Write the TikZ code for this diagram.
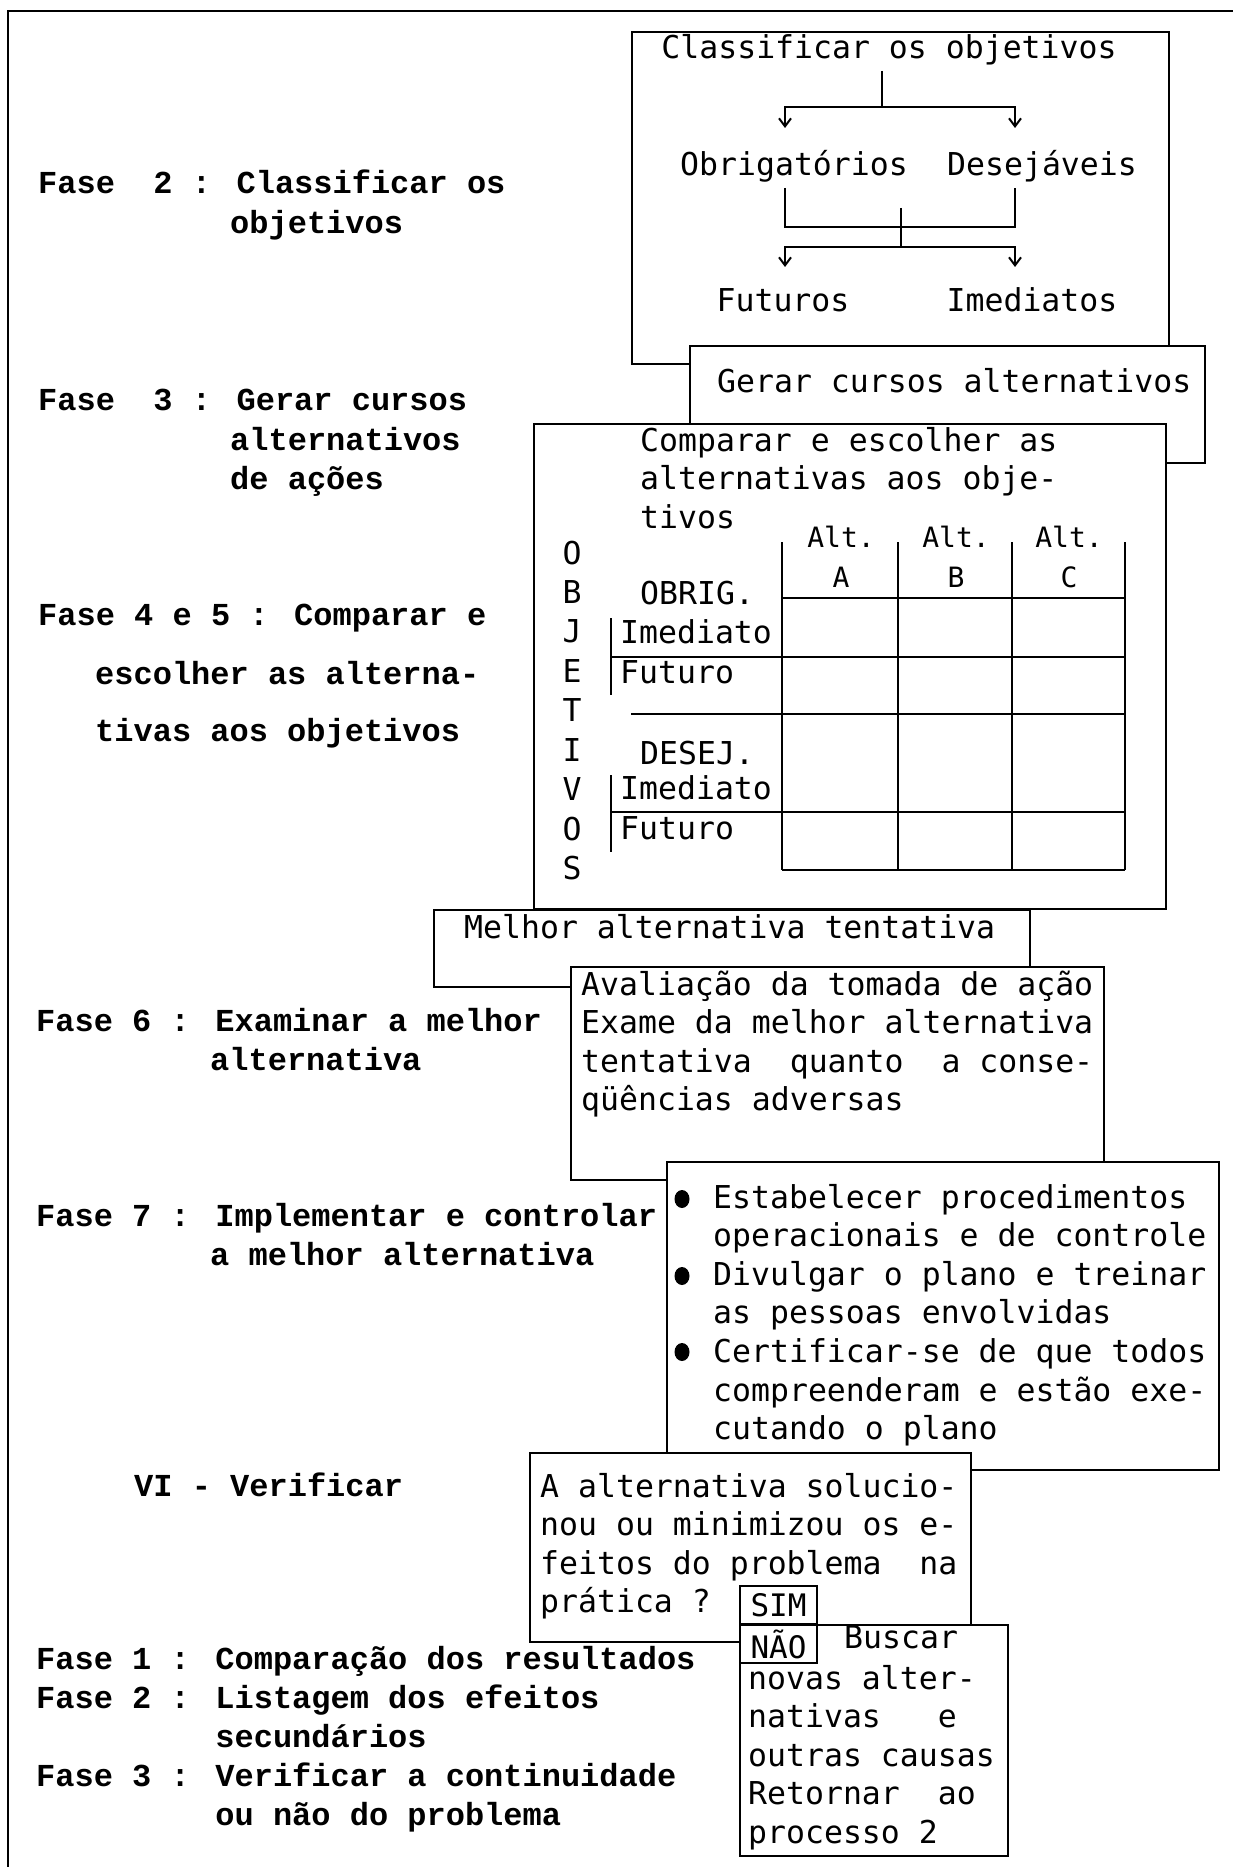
\documentclass[tikz,border=0pt]{standalone}
\usepackage{fontspec}
\usetikzlibrary{arrows.meta,shapes.geometric}
\newfontfamily\sidefont{Liberation Mono}
\newfontfamily\boxfont{DejaVu Sans Mono}
% a block of left-aligned lines whose first baseline is the node's base
\newcommand\txtlines[2][1]{\renewcommand\arraystretch{#1}\begin{tabular}[t]{@{}l@{}}#2\end{tabular}}

\tikzset{
  frame/.style={line width=2pt},
  panel/.style={draw, fill=white, line width=2pt, inner sep=0pt, anchor=north west},
  tag/.style={draw, line width=2pt, inner sep=0pt, anchor=north west,
    minimum width=77pt, minimum height=38pt, font=\boxfont\fontsize{31}{34}\selectfont},
  side/.style={anchor=base west, inner sep=0pt, font=\sidefont\bfseries\fontsize{32}{39}\selectfont},
  boxtxt/.style={anchor=base west, inner sep=0pt, font=\boxfont\fontsize{31.5}{38.6}\selectfont},
  ctxt/.style={boxtxt, anchor=base},
  headtxt/.style={anchor=base, inner sep=0pt, font=\boxfont\fontsize{28}{32}\selectfont},
  tree/.style={line width=2pt},
  arr/.style={-{Straight Barb[length=8pt,width=12pt,line width=2pt]}},
  tablerule/.style={line width=2.2pt},
  bullet/.style={ellipse, fill, inner sep=0pt, minimum width=15pt, minimum height=18pt},
}

\begin{document}
\begin{tikzpicture}[x=1pt,y=-1pt]
\useasboundingbox (0,0) rectangle (1233,1867);
\fill[white] (0,0) rectangle (1233,1867);

% page frame
\draw[frame] (8,1867) -- (8,11) -- (1233,11);

% ---------- left column: phases ----------
\node[side] (f2)   at (38,194)  {Fase\ \ 2 : Classificar os};
\node[side] (f2b)  at (230,234) {objetivos};
\node[side] (f3)   at (38,410)  {Fase\ \ 3 : Gerar cursos};
\node[side] (f3b)  at (230,450) {\txtlines{alternativos\\de ações}};
\node[side] (f45)  at (38,625)  {Fase 4 e 5 : Comparar e};
\node[side] (f45b) at (95,684)  {\txtlines[1.47]{escolher as alterna-\\tivas aos objetivos}};
\node[side] (f6)   at (36,1031) {Fase 6 : Examinar a melhor};
\node[side] (f6b)  at (210,1070) {alternativa};
\node[side] (f7)   at (36,1226) {Fase 7 : Implementar e controlar};
\node[side] (f7b)  at (210,1265) {a melhor alternativa};
\node[side] (vi)   at (134,1496) {VI - Verificar};
\node[side] (g1)   at (36,1669) {\txtlines{Fase 1 : Comparação dos resultados\\
  Fase 2 : Listagem dos efeitos\\\phantom{Fase 2 : }secundários\\
  Fase 3 : Verificar a continuidade\\\phantom{Fase 3 : }ou não do problema}};

% ---------- box 1: classification tree ----------
\node[panel, minimum width=537pt, minimum height=332pt] (b1) at (631,31) {};
\node[ctxt] (cls) at (889,59)   {Classificar os objetivos};
\node[ctxt] (obr) at (794,176)  {Obrigatórios};
\node[ctxt] (des) at (1042,176) {Desejáveis};
\node[ctxt] (fut) at (783,312)  {Futuros};
\node[ctxt] (ime) at (1032,312) {Imediatos};
\coordinate (s1) at (882,71);
\coordinate (s2) at (882,107);
\coordinate (a1) at (785,128);
\coordinate (a2) at (1015,128);
\draw[tree] (s1) -- (s2);
\draw[tree,arr] (s2) -| (a1);
\draw[tree,arr] (s2) -| (a2);
\coordinate (u1) at (785,188);
\coordinate (u2) at (1015,188);
\coordinate (m1) at (901,208);
\coordinate (m2) at (901,247);
\coordinate (d1) at (785,267);
\coordinate (d2) at (1015,267);
\draw[tree] (u1) -- (785,227) -- (1015,227) -- (u2);
\draw[tree] (m1) -- (m2);
\draw[tree,arr] (m2) -| (d1);
\draw[tree,arr] (m2) -| (d2);

% ---------- box 2 ----------
\node[panel, minimum width=515pt, minimum height=117pt] (b2) at (689,345) {};
\node[boxtxt] (t2) at (717,392) {Gerar cursos alternativos};

% ---------- box 3: comparison table ----------
\node[panel, minimum width=632pt, minimum height=485pt] (b3) at (533,423) {};
\node[boxtxt] (t3) at (640,451) {\txtlines{Comparar e escolher as\\alternativas aos obje-\\tivos}};
\node[boxtxt, anchor=base] (obj) at (572,564)
  {\renewcommand\arraystretch{1.023}\begin{tabular}[t]{@{}c@{}}O\\B\\J\\E\\T\\I\\V\\O\\S\end{tabular}};
\node[headtxt] (ha) at (841,547) {Alt.};
\node[headtxt] (hb) at (956,547) {Alt.};
\node[headtxt] (hc) at (1069,547) {Alt.};
\node[headtxt] (la) at (841,587) {A};
\node[headtxt] (lb) at (956,587) {B};
\node[headtxt] (lc) at (1069,587) {C};
\node[boxtxt] (r1) at (640,604) {OBRIG.};
\node[boxtxt] (r2) at (620,643) {Imediato};
\node[boxtxt] (r3) at (620,683) {Futuro};
\node[boxtxt] (r4) at (640,764) {DESEJ.};
\node[boxtxt] (r5) at (620,799) {Imediato};
\node[boxtxt] (r6) at (620,839) {Futuro};
\foreach \cx in {782,898,1012,1125} \draw[tablerule] (\cx,542) -- (\cx,870);
\draw[tablerule] (782,598) -- (1125,598);
\draw[tablerule] (611,657) -- (1125,657);
\draw[tablerule] (631,714) -- (1125,714);
\draw[tablerule] (611,812) -- (1125,812);
\draw[tablerule] (782,870) -- (1125,870);
\draw[tablerule] (611,618) -- (611,695);
\draw[tablerule] (611,775) -- (611,852);

% ---------- box 4 ----------
\node[panel, minimum width=596pt, minimum height=77pt] (b4) at (433,909) {};
\node[boxtxt] (t4) at (464,938) {Melhor alternativa tentativa};

% ---------- box 5 ----------
\node[panel, minimum width=533pt, minimum height=213pt] (b5) at (570,966) {};
\node[boxtxt] (t5) at (581,995) {\txtlines{Avaliação da tomada de ação\\Exame da melhor alternativa\\
  tentativa\ \ quanto\ \ a conse-\\qüências adversas}};

% ---------- box 6 ----------
\node[panel, minimum width=552pt, minimum height=308pt] (b6) at (666,1161) {};
\node[bullet] (p1) at (682,1199) {};
\node[bullet] (p2) at (682,1276) {};
\node[bullet] (p3) at (682,1352) {};
\node[boxtxt] (t6) at (713,1208) {\txtlines{Estabelecer procedimentos\\operacionais e de controle\\
  Divulgar o plano e treinar\\as pessoas envolvidas\\Certificar-se de que todos\\
  compreenderam e estão exe-\\cutando o plano}};

% ---------- box 7: verification ----------
\node[panel, minimum width=441pt, minimum height=189pt] (b7) at (529,1452) {};
\node[boxtxt] (t7) at (540,1497) {\txtlines{A alternativa solucio-\\nou ou minimizou os e-\\
  feitos do problema\ \ na\\prática ?}};
\node[tag] (sim) at (739,1585) {SIM};

% ---------- box 8 ----------
\node[panel, minimum width=268pt, minimum height=231pt] (b8) at (739,1624) {};
\node[tag] (nao) at (739,1624) {NÃO};
\node[boxtxt] (t8a) at (844,1648) {Buscar};
\node[boxtxt] (t8) at (748,1689) {\txtlines{novas alter-\\nativas\ \ \ e\\outras causas\\
  Retornar\ \ ao\\processo 2}};
\end{tikzpicture}
\end{document}
